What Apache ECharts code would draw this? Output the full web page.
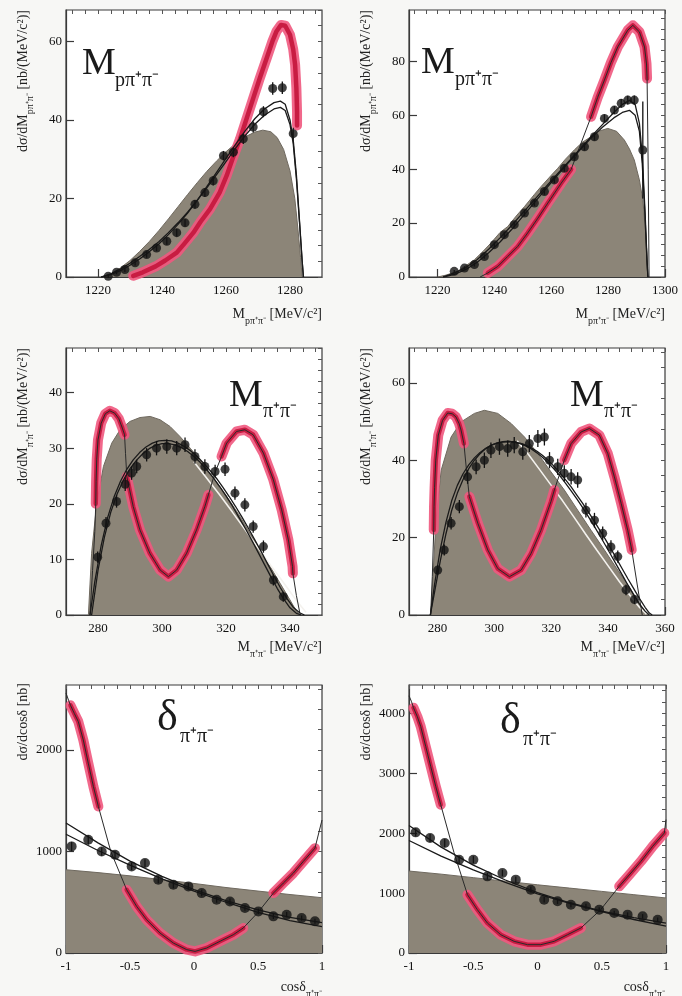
<!DOCTYPE html>
<html><head><meta charset="utf-8">
<script src="https://cdn.jsdelivr.net/npm/echarts@6/dist/echarts.min.js"></script>
<style>html,body{margin:0;padding:0;background:#f7f7f5}#c{width:682px;height:996px}</style>
</head><body><div id="c"></div><script>
// ---------------- Panel 1: M(p pi+ pi-), left ----------------
const p1XTicks = [1220, 1240, 1260, 1280];
const p1YTicks = [0, 20, 40, 60];
const p1Grey = [[1221.5,0],[1224,0.8],[1227,2.3],[1230,4.2],[1233,6.5],[1236,9],[1239,11.8],[1242,14.8],[1245,17.9],[1248,21],[1251,24],[1254,26.9],[1257,29.5],[1260,31.9],[1263,34],[1266,35.7],[1269,36.9],[1271.5,37.4],[1274,37],[1276,35.5],[1278,32.5],[1280,27],[1281.5,20],[1282.5,12],[1283.3,5],[1283.8,0]];
const p1Red = [[1231,0.3],[1234,1.2],[1238,2.7],[1241,4.2],[1244.6,6.2],[1247,8.5],[1249.8,11.3],[1252,14],[1255,17.3],[1258,21.5],[1260.2,25.8],[1262,30],[1264.4,35.2],[1266.5,40.5],[1268.5,45.5],[1270.5,50.5],[1272.7,55.7],[1274.5,60],[1275.8,62.6],[1277.2,64.2],[1278.5,64],[1280,61.7],[1281,58],[1281.6,54],[1282,48],[1282.2,42],[1282.2,38.6]];
const p1FitA = [[1221,0],[1224,0.6],[1227,1.6],[1230,3],[1233,4.6],[1236,6.4],[1239,8.4],[1242,10.8],[1245,13.4],[1248,16.3],[1251,19.5],[1254,23],[1257,26.6],[1260,30.2],[1263,33.8],[1266,37.2],[1269,40.3],[1272,42.8],[1275,44.4],[1277,44.8],[1278.5,44],[1280,40],[1281,35],[1282,26],[1283,14],[1283.8,4],[1284.2,0]];
const p1FitB = [[1221,0],[1224,0.8],[1227,2],[1230,3.5],[1233,5.2],[1236,7],[1239,9],[1242,11.3],[1245,13.8],[1248,16.5],[1251,19.5],[1254,22.7],[1257,26],[1260,29.4],[1263,32.8],[1266,36],[1269,38.9],[1272,41.2],[1275,42.8],[1277,43.2],[1278.5,42.4],[1280,38.8],[1281,34],[1282,25],[1283,13.5],[1283.8,4],[1284.2,0]];
const p1Points = [[1223.2,0.2],[1225.8,1.2],[1228.4,1.9],[1231.6,3.6],[1235.2,5.7],[1238.3,7.4],[1241.5,9.1],[1244.6,11.3],[1247.2,13.8],[1250.3,18.5],[1253.4,21.5],[1256,24.5],[1259.2,30.9],[1262.3,31.8],[1265.4,35.2],[1268.5,38.2],[1271.7,42.1],[1274.6,48],[1277.6,48.2],[1281,36.5]];
const p1Err = [0.4,0.5,0.6,0.7,0.8,0.8,0.9,1,1,1.1,1.1,1.2,1.2,1.3,1.3,1.4,1.4,1.6,1.6,1.5];

// ---------------- Panel 2: M(p pi+ pi-), right ----------------
const p2XTicks = [1220, 1240, 1260, 1280, 1300];
const p2YTicks = [0, 20, 40, 60, 80];
const p2Grey = [[1220.1,0],[1223,0.7],[1227.1,2.1],[1230,4.2],[1233,6.4],[1236,9.5],[1238.8,12.6],[1242,16.5],[1244.7,18.7],[1248,23],[1250.6,26.1],[1254,30.5],[1256.4,33.5],[1260,37.7],[1262.3,40.3],[1265,43.7],[1268.1,47.1],[1271,50],[1274,52],[1276.5,54],[1279.9,55.1],[1283,54],[1285.7,50.8],[1287.5,47.5],[1289.2,43.4],[1291,36],[1292.2,28.6],[1293.4,13.8],[1293.9,0]];
const p2RedA = [[1237.7,1.5],[1241.2,3.9],[1244.7,7.6],[1248.2,11.3],[1251.7,16.3],[1255.3,21.8],[1258.8,27.4],[1263.5,34.8],[1267,39.9]];
const p2RedB = [[1274,59.4],[1276.3,66.5],[1278.7,73],[1281,79.5],[1283.4,85.3],[1286.9,91.5],[1288.7,93.3],[1291,90.9],[1292.8,85.3],[1293.5,79],[1293.7,73.6]];
const p2ModelStart = [[1235,0]];
const p2ModelGapA = [];
const p2ModelEnd = [[1294.1,40],[1294.4,0]];
const p2FitA = [[1222,0],[1226,1],[1230,2.8],[1234,5.5],[1238,9],[1242,13],[1246,17.5],[1250,22.5],[1254,27.5],[1258,32.5],[1262,37.5],[1266,42.3],[1270,47],[1274,51.5],[1278,55.5],[1282,59],[1285,61],[1287.5,61.8],[1289.5,60],[1291,54],[1292,42],[1293,22],[1293.7,5],[1294,0]];
const p2FitB = [[1222,0],[1226,1.5],[1230,3.5],[1234,6.5],[1238,10.3],[1242,14.5],[1246,19],[1250,23.8],[1254,28.5],[1258,33.3],[1262,38],[1266,42.7],[1270,47.3],[1274,52],[1278,56.5],[1282,61],[1285,64],[1287.5,65.5],[1289.5,64],[1291,57],[1292,45],[1293,24],[1293.7,6],[1294,0]];
const p2Points = [[1225.9,2.1],[1229.5,3.3],[1233,4.6],[1236.5,7.6],[1240,12],[1243.5,15.7],[1247,19.4],[1250.6,23.7],[1254.1,27.4],[1257.6,31.7],[1261.1,36],[1264.6,40.3],[1268.1,44.6],[1271.7,48.3],[1275.2,52],[1278.7,58.8],[1282.2,61.9],[1284.6,64.4],[1286.9,65.6],[1289.2,65.6],[1292.2,47.1]];
const p2Err = [0.5,0.6,0.7,0.8,0.9,1,1,1.1,1.1,1.2,1.2,1.3,1.3,1.4,1.4,1.5,1.5,1.6,1.6,1.7,18];

// ---------------- Panel 3: M(pi+ pi-), left ----------------
const p3XTicks = [280, 300, 320, 340];
const p3YTicks = [0, 10, 20, 30, 40];
const p3Grey = [[277,0],[278,11.1],[279.6,20.1],[281.7,26.7],[284.3,30.9],[286.9,33.3],[290,34.8],[293.1,35.5],[296.3,35.7],[299.4,35.1],[302.5,33.9],[305.6,32.1],[308.8,30],[311.9,27.9],[315,25.5],[318.1,23.1],[321.3,20.4],[324.4,17.7],[327.5,14.7],[330.6,11.7],[333.8,8.7],[336.9,5.7],[340,2.7],[342.1,0.6],[343.1,0]];
const p3White = [[310,27.5],[314,24.6],[318,21.6],[322,18.5],[326,15.3],[330,12.1],[334,8.9],[338,5.8],[342,2.6],[345,0.5]];
const p3RedA = [[279.3,20],[279.4,24],[279.6,28],[280,31.5],[281,34.5],[282.3,36.2],[283.7,36.7],[285.2,36.3],[286.5,35.3],[287.6,33.6],[288.3,32.4]];
const p3RedB = [[289,24.9],[291,19.5],[293.1,15.3],[296.2,11.1],[299.4,8.1],[302,6.9],[304.6,8.1],[307.7,11.1],[310.8,15.3],[313.4,19.5],[314.5,21.6]];
const p3RedC = [[318.6,28.5],[320.2,30.9],[323.3,33],[325.9,33.3],[328.5,32.4],[331.7,29.1],[334.8,24.3],[337.4,18.9],[339.5,13.5],[340.8,8.7],[340.9,7.5]];
const p3ModelStart = [[277.5,0],[278.3,8],[279,15]];
const p3ModelGapA = [[288.6,29]];
const p3ModelGapB = [[316.5,25.5]];
const p3ModelEnd = [[342,3.5],[343.2,0]];
const p3FitA = [[278,0],[280,8],[282,14],[284,18.5],[286,21.8],[288,24.3],[290,26.3],[292,27.8],[294,29],[296,29.9],[298,30.5],[300,30.8],[302,30.8],[304,30.6],[306,30.1],[308,29.4],[310,28.5],[312,27.4],[314,26.1],[316,24.7],[318,23.1],[320,21.4],[322,19.6],[324,17.6],[326,15.6],[328,13.5],[330,11.3],[332,9.1],[334,6.9],[336,4.8],[338,2.9],[340,1.3],[342,0.3],[343.5,0]];
const p3FitB = [[277.5,0],[279,6],[281,12.5],[283,17.5],[285,21.2],[287,24],[289,26.2],[291,27.9],[293,29.2],[295,30.2],[297,30.9],[299,31.3],[301,31.4],[303,31.3],[305,30.9],[307,30.3],[309,29.5],[311,28.5],[313,27.3],[315,26],[317,24.6],[319,23],[321,21.3],[323,19.5],[325,17.6],[327,15.6],[329,13.5],[331,11.4],[333,9.2],[335,7],[337,4.9],[339,3],[341,1.4],[343,0.4],[344.5,0]];
const p3Points = [[279.9,10.4],[282.5,16.5],[285.8,20.4],[288.5,23.5],[290.5,25.5],[292.1,26.7],[295.2,28.8],[298.3,30],[301.5,30.3],[304.6,30],[307.2,30.6],[310.3,28.5],[313.4,26.7],[316.6,25.8],[319.7,26.2],[322.8,21.9],[325.9,19.8],[328.5,15.9],[331.7,12.3],[334.8,6.3],[337.9,3.3]];
const p3Err = [1,1.1,1.1,1.2,1.2,1.2,1.2,1.3,1.3,1.3,1.3,1.3,1.3,1.2,1.2,1.2,1.2,1.1,1.1,1,0.9];

// ---------------- Panel 4: M(pi+ pi-), right ----------------
const p4XTicks = [280, 300, 320, 340, 360];
const p4YTicks = [0, 20, 40, 60];
const p4Grey = [[277.7,0],[279.5,24.5],[281.3,37.4],[284.8,46],[288.3,49.9],[293,52.1],[296.5,52.9],[301.2,52.1],[305.9,49.5],[310.6,46],[315.3,41.7],[319.9,37],[324.6,32.3],[329.3,27.1],[334,21.9],[338.7,16.8],[343.4,11.6],[348.1,6.5],[351.6,2.2],[353.9,0]];
const p4White = [[308,45],[312,41.5],[316,37.5],[320,33.5],[324,29.5],[328,25.3],[332,21],[336,16.8],[340,12.7],[344,8.6],[348,4.8],[351,2],[353.5,0.2]];
const p4RedA = [[278.7,22],[278.8,28],[279,33],[279.4,40],[280.3,46.5],[281.8,50.3],[283.6,52.2],[285.2,52],[286.5,51.2],[287.6,49.5],[288.3,47.8],[289.3,44.3]];
const p4RedB = [[291.2,30.6],[294.2,23.7],[297.7,16.8],[301.2,12],[305.3,9.9],[309.4,11.6],[312.9,15.9],[316.4,21.9],[319.9,29.3],[321.1,32.3]];
const p4RedC = [[324.6,40],[327,44.3],[330.5,47.3],[333.4,48.2],[336.9,46.5],[339.9,41.7],[342.2,35.7],[344.6,28.8],[346.9,21.9],[348.1,17.6],[348.3,16.8]];
const p4ModelStart = [[277.6,0],[278.2,10]];
const p4ModelGapA = [[290.2,37.5]];
const p4ModelGapB = [[323,36.5]];
const p4ModelEnd = [[350.2,8],[352,0]];
const p4FitA = [[277.5,0],[279,8],[281,17],[283,24],[285,29.5],[287,33.5],[289,36.5],[291,38.8],[293,40.6],[295,42],[297,43.1],[299,43.9],[301,44.4],[303,44.7],[305,44.8],[307,44.7],[309,44.4],[311,43.9],[313,43.2],[315,42.3],[317,41.2],[319,39.9],[321,38.4],[323,36.8],[325,35],[327,33.1],[329,31],[331,28.9],[333,26.7],[335,24.4],[337,22],[339,19.6],[341,17.1],[343,14.5],[345,11.9],[347,9.3],[349,6.8],[351,4.3],[353,2],[354.5,0.5],[355.5,0]];
const p4FitB = [[277.5,0],[279,6],[281,14],[283,21],[285,27],[287,31.5],[289,35],[291,37.8],[293,40],[295,41.7],[297,43],[299,43.9],[301,44.5],[303,44.8],[305,44.9],[307,44.7],[309,44.3],[311,43.7],[313,42.9],[315,41.9],[317,40.7],[319,39.3],[321,37.7],[323,36],[325,34.1],[327,32.1],[329,30],[331,27.8],[333,25.5],[335,23.1],[337,20.6],[339,18.1],[341,15.5],[343,12.9],[345,10.3],[347,7.7],[349,5.2],[351,2.9],[353,1],[354.5,0]];
const p4Points = [[280.1,11.6],[282.4,16.8],[284.8,23.7],[287.7,28],[290.6,35.7],[293.6,38.3],[296.5,40],[298.8,42.6],[301.8,43.5],[304.7,43],[307,43.9],[310,42.2],[312.3,44.3],[315.3,45.6],[317.6,46],[319.4,40],[322.3,38.3],[324.6,36.6],[327,35.7],[329.3,34.9],[332.2,27.1],[335.2,24.5],[338.1,21.1],[341,17.6],[343.4,15.1],[346.3,6.5],[349.3,4]];
const p4Err = [1.2,1.4,1.6,1.7,1.8,1.9,2,2,2.1,2.1,2.1,2.1,2.2,2.2,2.2,2.1,2.1,2.1,2,2,1.9,1.9,1.8,1.7,1.6,1.4,1.2];

// ---------------- Panel 5: cos(delta), left ----------------
const p5XTicks = [-1, -0.5, 0, 0.5, 1];
const p5YTicks = [0, 1000, 2000];
const p5Grey = [[-1,820],[-0.75,792],[-0.5,760],[-0.25,722],[0,685],[0.25,645],[0.5,610],[0.75,576],[1,545]];
const p5RedA = [[-0.965,2440],[-0.935,2360],[-0.904,2280],[-0.865,2099],[-0.826,1870],[-0.786,1640],[-0.747,1443]];
const p5RedB = [[-0.526,623],[-0.448,459],[-0.37,328],[-0.266,197],[-0.161,98],[-0.057,33],[0.008,16],[0.099,49],[0.203,115],[0.307,180],[0.385,246]];
const p5RedC = [[0.62,590],[0.698,689],[0.776,787],[0.854,902],[0.945,1033]];
const p5ModelStart = [[-1,2560],[-0.98,2490]];
const p5ModelGapA = [[-0.65,1000]];
const p5ModelGapB = [[0.5,400]];
const p5ModelEnd = [[1,1310]];
const p5FitA = [[-1,1280],[-0.75,1085],[-0.5,905],[-0.25,755],[0,625],[0.25,515],[0.5,425],[0.75,350],[1,300]];
const p5FitB = [[-1,1170],[-0.75,1010],[-0.5,865],[-0.25,730],[0,610],[0.25,500],[0.5,400],[0.75,320],[1,260]];
const p5Points = [[-0.956,1050],[-0.826,1115],[-0.721,1000],[-0.617,968],[-0.487,853],[-0.383,886],[-0.279,722],[-0.161,672],[-0.044,656],[0.06,590],[0.177,525],[0.281,508],[0.398,443],[0.503,410],[0.62,361],[0.724,377],[0.841,344],[0.945,312]];
const p5Err = [45,45,42,40,38,38,35,34,33,32,30,30,28,27,26,26,25,25];

// ---------------- Panel 6: cos(delta), right ----------------
const p6XTicks = [-1, -0.5, 0, 0.5, 1];
const p6YTicks = [0, 1000, 2000, 3000, 4000];
const p6Grey = [[-1,1370],[-0.75,1318],[-0.5,1260],[-0.25,1200],[0,1140],[0.25,1085],[0.5,1030],[0.75,975],[1,920]];
const p6RedA = [[-0.965,4100],[-0.935,3950],[-0.909,3788],[-0.87,3454],[-0.831,3120],[-0.792,2786],[-0.753,2479]];
const p6RedB = [[-0.545,975],[-0.468,724],[-0.39,501],[-0.286,306],[-0.182,195],[-0.078,139],[0.026,139],[0.13,195],[0.234,306],[0.338,418]];
const p6RedC = [[0.636,1114],[0.727,1337],[0.805,1532],[0.896,1783],[0.987,2006]];
const p6ModelStart = [[-1,4300],[-0.98,4200]];
const p6ModelGapA = [[-0.65,1680]];
const p6ModelGapB = [[0.49,720]];
const p6ModelEnd = [[1,2230]];
const p6FitA = [[-1,2130],[-0.75,1770],[-0.5,1470],[-0.25,1220],[0,1010],[0.25,840],[0.5,700],[0.75,590],[1,500]];
const p6FitB = [[-1,1880],[-0.75,1620],[-0.5,1390],[-0.25,1180],[0,990],[0.25,830],[0.5,690],[0.75,560],[1,450]];
const p6Points = [[-0.948,2017],[-0.836,1922],[-0.722,1838],[-0.61,1560],[-0.499,1560],[-0.39,1281],[-0.273,1337],[-0.169,1226],[-0.052,1058],[0.052,891],[0.156,864],[0.26,808],[0.377,780],[0.48,724],[0.597,669],[0.701,641],[0.818,613],[0.935,557]];
const p6Err = [70,68,66,62,60,55,55,52,48,45,44,42,42,40,38,38,37,36];

// ---------------- Texts ----------------
const titleMain = ['M', 'M', 'M', 'M', 'δ', 'δ'];
const titleSub = ['pπ⁺π⁻', 'pπ⁺π⁻', 'π⁺π⁻', 'π⁺π⁻', 'π⁺π⁻', 'π⁺π⁻'];
const yTitles = [
  '{a|dσ/dM}{s|pπ⁺π⁻}{a| [nb/(MeV/c²)]}',
  '{a|dσ/dM}{s|pπ⁺π⁻}{a| [nb/(MeV/c²)]}',
  '{a|dσ/dM}{s|π⁺π⁻}{a| [nb/(MeV/c²)]}',
  '{a|dσ/dM}{s|π⁺π⁻}{a| [nb/(MeV/c²)]}',
  '{a|dσ/dcosδ [nb]}',
  '{a|dσ/dcosδ [nb]}'
];
const xTitles = [
  '{a|M}{s|pπ⁺π⁻}{a| [MeV/c²]}',
  '{a|M}{s|pπ⁺π⁻}{a| [MeV/c²]}',
  '{a|M}{s|π⁺π⁻}{a| [MeV/c²]}',
  '{a|M}{s|π⁺π⁻}{a| [MeV/c²]}',
  '{a|cosδ}{s|π⁺π⁻}',
  '{a|cosδ}{s|π⁺π⁻}'
];

// ---------------- Layout (positions / styles) ----------------
const SERIF = 'Liberation Serif, Times New Roman, serif';
const panels = [
  { grid:{left:66,top:10,width:256,height:267}, xr:[1210,1290], yr:[0,68], xt:p1XTicks, yt:p1YTicks, xm:4, ym:4,
    grey:p1Grey, white:null, red:[p1Red], model:null, fits:[p1FitA,p1FitB], pts:p1Points, err:p1Err, dot:9,
    lab:[82,64,115,81,38], yt_pos:[24,10], xt_pos:[322,315] },
  { grid:{left:409,top:10,width:256,height:267}, xr:[1210,1300], yr:[0,99], xt:p2XTicks, yt:p2YTicks, xm:4, ym:4,
    grey:p2Grey, white:null, red:[p2RedA,p2RedB], model:[p2ModelStart,p2RedA,p2ModelGapA,p2RedB,p2ModelEnd], fits:[p2FitA,p2FitB], pts:p2Points, err:p2Err, dot:9,
    lab:[421,63,455,80,38], yt_pos:[367,10], xt_pos:[665,315] },
  { grid:{left:66,top:348,width:256,height:267}, xr:[270,350], yr:[0,48], xt:p3XTicks, yt:p3YTicks, xm:4, ym:2,
    grey:p3Grey, white:p3White, red:[p3RedA,p3RedB,p3RedC], model:[p3ModelStart,p3RedA,p3ModelGapA,p3RedB,p3ModelGapB,p3RedC,p3ModelEnd], fits:[p3FitA,p3FitB], pts:p3Points, err:p3Err, dot:9,
    lab:[229,396,263,412,38], yt_pos:[24,348], xt_pos:[322,648] },
  { grid:{left:409,top:348,width:256,height:267}, xr:[270,360], yr:[0,69], xt:p4XTicks, yt:p4YTicks, xm:4, ym:4,
    grey:p4Grey, white:p4White, red:[p4RedA,p4RedB,p4RedC], model:[p4ModelStart,p4RedA,p4ModelGapA,p4RedB,p4ModelGapB,p4RedC,p4ModelEnd], fits:[p4FitA,p4FitB], pts:p4Points, err:p4Err, dot:9,
    lab:[570,396,604,412,38], yt_pos:[367,348], xt_pos:[665,648] },
  { grid:{left:66,top:685,width:256,height:268}, xr:[-1,1], yr:[0,2640], xt:p5XTicks, yt:p5YTicks, xm:0.1, ym:200,
    grey:p5Grey, white:null, red:[p5RedA,p5RedB,p5RedC], model:[p5ModelStart,p5RedA,p5ModelGapA,p5RedB,p5ModelGapB,p5RedC,p5ModelEnd], fits:[p5FitA,p5FitB], pts:p5Points, err:p5Err, dot:10,
    lab:[157,718,180,737,44], yt_pos:[24,683], xt_pos:[322,988] },
  { grid:{left:409,top:685,width:257,height:268}, xr:[-1,1], yr:[0,4480], xt:p6XTicks, yt:p6YTicks, xm:0.1, ym:200,
    grey:p6Grey, white:null, red:[p6RedA,p6RedB,p6RedC], model:[p6ModelStart,p6RedA,p6ModelGapA,p6RedB,p6ModelGapB,p6RedC,p6ModelEnd], fits:[p6FitA,p6FitB], pts:p6Points, err:p6Err, dot:10,
    lab:[500,721,523,740,44], yt_pos:[367,683], xt_pos:[665,988] }
];

function minorList(min, max, step) {
  const out = [];
  let v = Math.ceil(min / step - 1e-9) * step;
  while (v <= max + 1e-9) { out.push(Math.round(v * 1000) / 1000); v += step; }
  return out;
}
const fmt = v => String(Math.round(v * 1000) / 1000);

const grids = [], xAxes = [], yAxes = [], series = [], graphics = [];
panels.forEach((p, i) => {
  grids.push(Object.assign({ show:true, borderColor:'#3a3a3a', borderWidth:1.2, backgroundColor:'#ffffff', containLabel:false, outerBoundsMode:'none' }, p.grid));
  const mainAx = (r, t) => ({
    type:'value', gridIndex:i, min:r[0], max:r[1], scale:true,
    axisLine:{show:true, onZero:false, lineStyle:{color:'#3a3a3a', width:1.2}},
    axisTick:{show:true, inside:true, length:8, customValues:t, lineStyle:{color:'#3a3a3a', width:1.2}},
    axisLabel:{customValues:t, formatter:fmt, color:'#111', fontFamily:SERIF, fontSize:13, margin:7},
    splitLine:{show:false}
  });
  const minorAx = (r, step) => ({
    type:'value', gridIndex:i, min:r[0], max:r[1], scale:true,
    axisLine:{show:false, onZero:false},
    axisTick:{show:true, inside:true, length:4, customValues:minorList(r[0], r[1], step), lineStyle:{color:'#555', width:1}},
    axisLabel:{show:false}, splitLine:{show:false}
  });
  xAxes.push(mainAx(p.xr, p.xt)); xAxes.push(minorAx(p.xr, p.xm));
  const ya = mainAx(p.yr, p.yt); ya.axisLabel.margin = 4;
  yAxes.push(ya); yAxes.push(minorAx(p.yr, p.ym));
  const ax = { xAxisIndex:2*i, yAxisIndex:2*i };
  const base = Object.assign({ type:'line', showSymbol:false, symbol:'none', silent:true, animation:false, clip:true }, ax);

  // phase-space grey area
  series.push(Object.assign({}, base, { data:p.grey, z:1, lineStyle:{color:'#6f695f', width:1}, areaStyle:{color:'#8c8578', opacity:1} }));
  if (p.white) series.push(Object.assign({}, base, { data:p.white, z:2, lineStyle:{color:'#f4f2ee', width:1.6} }));
  // red model curve, thick, with gaps
  const redData = [];
  p.red.forEach((s, k) => { if (k) redData.push([s[0][0], '-']); s.forEach(d => redData.push(d)); });
  series.push(Object.assign({}, base, { data:redData, z:3, connectNulls:false, lineStyle:{color:'#f0587e', width:10, opacity:0.9, cap:'round', join:'round'} }));
  series.push(Object.assign({}, base, { data:redData, z:3, connectNulls:false, lineStyle:{color:'#c81c42', width:4.5, cap:'round', join:'round'} }));
  // thin black line under the red model
  if (p.model) {
    const md = []; p.model.forEach(s => s.forEach(d => md.push(d)));
    series.push(Object.assign({}, base, { data:md, z:4, lineStyle:{color:'#2a2a2a', width:1} }));
  }
  // fit curves
  p.fits.forEach(f => series.push(Object.assign({}, base, { data:f, z:4, lineStyle:{color:'#1a1a1a', width:1.3} })));
  // error bars
  series.push(Object.assign({ type:'custom', silent:true, animation:false, z:5,
    data:p.pts.map((d, k) => [d[0], d[1] - p.err[k], d[1] + p.err[k]]),
    encode:{x:0, y:[1,2]},
    renderItem:(params, api) => {
      const a = api.coord([api.value(0), api.value(1)]);
      const b = api.coord([api.value(0), api.value(2)]);
      return { type:'line', shape:{x1:a[0], y1:a[1], x2:b[0], y2:b[1]}, style:{stroke:'#111', lineWidth:1.3} };
    } }, ax));
  // data points
  series.push(Object.assign({ type:'scatter', silent:true, animation:false, z:6, data:p.pts, symbol:'circle', symbolSize:p.dot, itemStyle:{color:'#141414'} }, ax));

  // in-plot labels
  graphics.push({ type:'text', x:p.lab[0], y:p.lab[1], silent:true, z:10,
    style:{ text:titleMain[i], font:p.lab[4] + 'px ' + SERIF, fill:'#1a1a1a', align:'left', verticalAlign:'middle' } });
  graphics.push({ type:'text', x:p.lab[2], y:p.lab[3], silent:true, z:10,
    style:{ text:titleSub[i], font:'20px ' + SERIF, fill:'#1a1a1a', align:'left', verticalAlign:'middle' } });
  const rich = {
    a:{ fontFamily:SERIF, fontSize:14, lineHeight:16, verticalAlign:'top', fill:'#222', color:'#222' },
    s:{ fontFamily:SERIF, fontSize:10, lineHeight:10, padding:[9,0,0,0], verticalAlign:'top', fill:'#222', color:'#222' }
  };
  graphics.push({ type:'text', x:p.yt_pos[0], y:p.yt_pos[1], rotation:Math.PI/2, silent:true, z:10,
    style:{ text:yTitles[i], rich:rich, align:'right', verticalAlign:'middle', fill:'#222' } });
  graphics.push({ type:'text', x:p.xt_pos[0], y:p.xt_pos[1], silent:true, z:10,
    style:{ text:xTitles[i], rich:rich, align:'right', verticalAlign:'middle', fill:'#222' } });
});

const chart = echarts.init(document.getElementById('c'), null, { renderer:'canvas' });
chart.setOption({
  backgroundColor:'#f7f7f5',
  animation:false,
  grid:grids, xAxis:xAxes, yAxis:yAxes, series:series, graphic:graphics
});
</script></body></html>
